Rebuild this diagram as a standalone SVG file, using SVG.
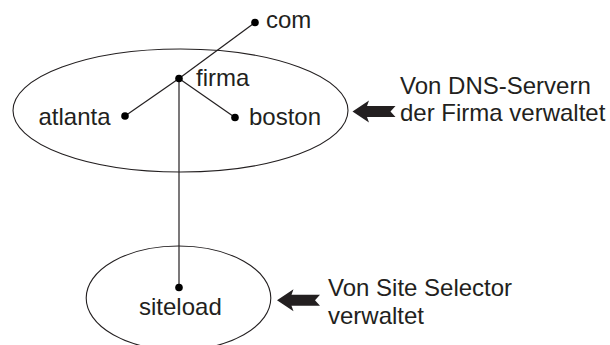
<svg xmlns="http://www.w3.org/2000/svg" width="610" height="345" viewBox="0 0 610 345">
<style>
.lbl{font-family:"Liberation Sans",Arial,Helvetica,sans-serif;font-size:24px;fill:#231f20}
.zone{fill:none;stroke:#231f20;stroke-width:1.1}
.edge{stroke:#231f20;stroke-width:1.2;fill:none}
.dot{fill:#000}
.pointer{fill:#231f20}
</style>
<defs>
<path id="arrow" d="M0,0 L16.5,-11 L14.5,-5.5 L43,-5.5 L38,0 L43,5.5 L14.5,5.5 L16.5,11 Z"/>
</defs>
<rect width="610" height="345" fill="#fff"/>
<g id="zones">
<ellipse id="zone-firma" class="zone" cx="180.5" cy="110.5" rx="167.5" ry="61.5"/>
<ellipse id="zone-siteload" class="zone" cx="178.5" cy="298" rx="92.3" ry="52"/>
</g>
<g id="connectors">
<line class="edge" x1="255" y1="22.5" x2="179" y2="78.5"/>
<line class="edge" x1="179" y1="78.5" x2="125" y2="116"/>
<line class="edge" x1="179" y1="78.5" x2="235" y2="117.5"/>
<line class="edge" x1="179" y1="78.5" x2="179" y2="287.5"/>
</g>
<g id="node-com">
<circle class="dot" cx="255" cy="22.5" r="3.8"/>
<text class="lbl" x="266" y="28">com</text>
</g>
<g id="node-firma">
<circle class="dot" cx="179" cy="78.5" r="3.8"/>
<text class="lbl" x="196" y="85.5">firma</text>
</g>
<g id="node-atlanta">
<circle class="dot" cx="125" cy="116" r="3.8"/>
<text class="lbl" x="38.5" y="125">atlanta</text>
</g>
<g id="node-boston">
<circle class="dot" cx="235" cy="117.5" r="3.8"/>
<text class="lbl" x="249" y="125">boston</text>
</g>
<g id="node-siteload">
<circle class="dot" cx="179" cy="287.5" r="3.8"/>
<text class="lbl" x="139" y="314.5">siteload</text>
</g>
<g id="note-dns">
<use href="#arrow" class="pointer" transform="translate(352.5,111.5)"/>
<text class="lbl" x="400" y="93.5">Von DNS-Servern</text>
<text class="lbl" x="400" y="120.5">der Firma verwaltet</text>
</g>
<g id="note-siteselector">
<use href="#arrow" class="pointer" transform="translate(277,300.3)"/>
<text class="lbl" x="328" y="295.5">Von Site Selector</text>
<text class="lbl" x="328" y="323.5">verwaltet</text>
</g>
</svg>
